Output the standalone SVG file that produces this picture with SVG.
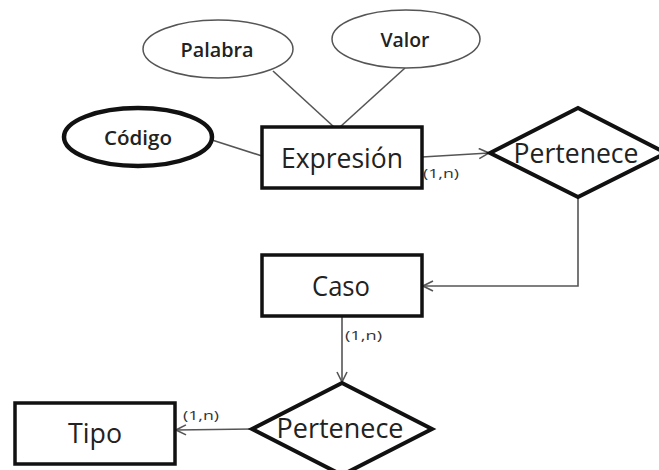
<svg xmlns="http://www.w3.org/2000/svg" width="659" height="470" viewBox="0 0 659 470">
  <defs>
    <style>
      .entity { fill: #fff; stroke: #111; stroke-width: 3.5; }
      .rel { fill: #fff; stroke: #111; stroke-width: 4; }
      .attr { fill: #fff; stroke: #555; stroke-width: 1.5; }
      .key { fill: #fff; stroke: #111; stroke-width: 4.5; }
      .edge { fill: none; stroke: #555; stroke-width: 1.6; }
      .big { font-family: "Open Sans", "Liberation Sans", sans-serif; font-size: 28px; fill: #222; text-anchor: middle; }
      .small { font-family: "Open Sans", "Liberation Sans", sans-serif; font-size: 19px; font-weight: 600; fill: #222; text-anchor: middle; }
      .card { font-family: "Open Sans", "Liberation Sans", sans-serif; font-size: 12px; fill: #333; }
    </style>
    <marker id="open" viewBox="0 0 12 12" refX="11" refY="6" markerWidth="12" markerHeight="12" markerUnits="userSpaceOnUse" orient="auto">
      <path d="M1,1 L11,6 L1,11" fill="none" stroke="#555" stroke-width="1.6"/>
    </marker>
  </defs>

  <g id="connectors">
    <line class="edge" x1="273" y1="71" x2="334" y2="127"/>
    <line class="edge" x1="405" y1="68" x2="340" y2="127"/>
    <line class="edge" x1="212" y1="140" x2="262" y2="156"/>
    <line class="edge" x1="422" y1="157" x2="489" y2="153" marker-end="url(#open)"/>
    <polyline class="edge" points="578,197 578,286 423,286" marker-end="url(#open)"/>
    <line class="edge" x1="342" y1="316" x2="342" y2="382" marker-end="url(#open)"/>
    <line class="edge" x1="252" y1="429" x2="176" y2="430" marker-end="url(#open)"/>
    <text class="card" x="423" y="178" textLength="36" lengthAdjust="spacingAndGlyphs">(1,n)</text>
    <text class="card" x="345" y="340" textLength="37" lengthAdjust="spacingAndGlyphs">(1,n)</text>
    <text class="card" x="183" y="420" textLength="36" lengthAdjust="spacingAndGlyphs">(1,n)</text>
  </g>

  <g id="palabra">
    <ellipse class="attr" cx="218" cy="49" rx="75" ry="29"/>
    <text class="small" x="217" y="57" textLength="73" lengthAdjust="spacingAndGlyphs">Palabra</text>
  </g>
  <g id="valor">
    <ellipse class="attr" cx="406" cy="39" rx="74" ry="29"/>
    <text class="small" x="405" y="47" textLength="49" lengthAdjust="spacingAndGlyphs">Valor</text>
  </g>
  <g id="codigo">
    <ellipse class="key" cx="138" cy="137" rx="74" ry="29"/>
    <text class="small" x="138" y="145" textLength="68" lengthAdjust="spacingAndGlyphs">Código</text>
  </g>
  <g id="expresion">
    <rect class="entity" x="262" y="127" width="160" height="61"/>
    <text class="big" x="342" y="168" textLength="122" lengthAdjust="spacingAndGlyphs">Expresión</text>
  </g>
  <g id="pertenece1">
    <polygon class="rel" points="490,153 578,108 666,153 578,197"/>
    <text class="big" x="576" y="163" textLength="125" lengthAdjust="spacingAndGlyphs">Pertenece</text>
  </g>
  <g id="caso">
    <rect class="entity" x="262" y="255" width="160" height="61"/>
    <text class="big" x="341" y="296" textLength="58" lengthAdjust="spacingAndGlyphs">Caso</text>
  </g>
  <g id="pertenece2">
    <polygon class="rel" points="252,429 342,383 432,429 342,475"/>
    <text class="big" x="340" y="438" textLength="127" lengthAdjust="spacingAndGlyphs">Pertenece</text>
  </g>
  <g id="tipo">
    <rect class="entity" x="15" y="403" width="160" height="61"/>
    <text class="big" x="95" y="443" textLength="54" lengthAdjust="spacingAndGlyphs">Tipo</text>
  </g>
</svg>
